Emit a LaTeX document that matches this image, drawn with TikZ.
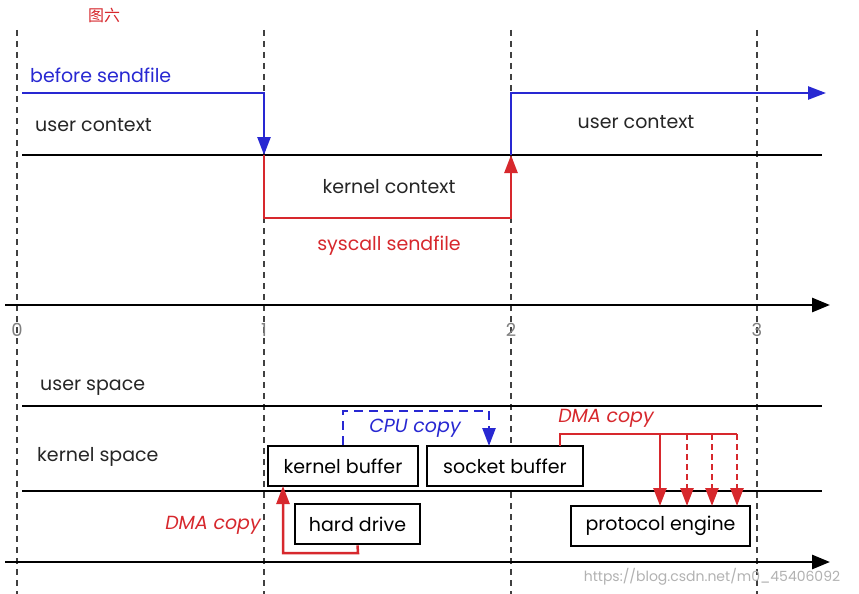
\documentclass[tikz,border=0pt]{standalone}
\usepackage{fontspec}
\setmainfont{Poppins}
\newfontfamily\cjk{Noto Sans CJK SC}
\usetikzlibrary{arrows.meta}
\definecolor{bl}{RGB}{40,40,210}
\definecolor{rd}{RGB}{215,40,45}
\begin{document}
\begin{tikzpicture}[x=1pt,y=-1pt,
 lbl/.style={font=\fontsize{19}{21}\selectfont,text=black!85,inner sep=0},
 it/.style={font=\itshape\fontsize{19}{21}\selectfont},
 box/.style={draw,line width=2.8pt,font=\fontsize{19}{21}\selectfont,minimum height=40pt,inner sep=0},
 vd/.style={black!75,line width=1.5pt,dash pattern=on 6pt off 5pt},
 hl/.style={line width=2.5pt,black},
 ar/.style={-{Triangle[length=18pt,width=13pt]}},
 ax/.style={line width=2.8pt,black,-{Triangle[length=18pt,width=14pt]}},
 tk/.style={font=\fontsize{18}{20}\selectfont,text=black!50,inner sep=0}]
\useasboundingbox[fill=white] (0,0) rectangle (859,594);
\node[text=rd,font=\cjk\fontsize{16}{18}\selectfont] (t) at (104,15) {图六};
\foreach \x/\n in {17/a,264/b,511/c,757/d}{
 \coordinate (\n0) at (\x,30); \coordinate (\n1) at (\x,594);
 \draw[vd] (\n0) -- (\n1);}
% top
\coordinate (p1) at (22,93); \coordinate (p2) at (264,93); \coordinate (p3) at (264,155);
\coordinate (p4) at (264,218); \coordinate (p5) at (511,218); \coordinate (p6) at (511,155);
\coordinate (p7) at (511,93); \coordinate (p8) at (826,93);
\coordinate (l1) at (22,155); \coordinate (l2) at (822,155);
\draw[hl] (l1) -- (l2);
\draw[bl,line width=2.5pt,ar] (p1) -- (p2) -- (p3);
\draw[rd,line width=2.5pt,ar] (p3) -- (p4) -- (p5) -- (p6);
\draw[bl,line width=2.5pt,ar] (p6) -- (p7) -- (p8);
\node[lbl,text=bl,anchor=west] (bs) at (30,75) {before sendfile};
\node[lbl,anchor=west] (uc1) at (35,125) {user context};
\node[lbl] (uc2) at (636,122) {user context};
\node[lbl] (kc) at (389,187) {kernel context};
\node[lbl,text=rd] (ss) at (389,246) {syscall sendfile};
% axis
\coordinate (x0) at (5,305); \coordinate (x1) at (830,305);
\draw[ax] (x0) -- (x1);
\foreach \x/\t in {17/0,264/1,511/2,757/3}{\node[tk] (n\t) at (\x,330) {\t};}
% bottom
\node[lbl,anchor=west] (us) at (40,388) {user space};
\node[lbl,anchor=west] (ks) at (37,457) {kernel space};
\coordinate (m1) at (22,406); \coordinate (m2) at (822,406);
\coordinate (m3) at (22,491); \coordinate (m4) at (822,491);
\draw[hl] (m1) -- (m2); \draw[hl] (m3) -- (m4);
\coordinate (y0) at (5,562); \coordinate (y1) at (830,562);
\draw[ax] (y0) -- (y1);
\node[box,minimum width=150pt,fill=white] (kb) at (343,466) {kernel buffer};
\node[box,minimum width=156pt,fill=white] (sb) at (505,466) {socket buffer};
\node[box,minimum width=125pt,fill=white] (hd) at (357.5,524) {hard drive};
\node[box,minimum width=179pt,fill=white] (pe) at (660.5,526) {protocol engine};
% CPU copy
\coordinate (c1) at (343,411); \coordinate (c2) at (489,411); \coordinate (c3) at (489,446);
\draw[bl,line width=2.5pt,dash pattern=on 9pt off 6pt,ar] (kb.north) -- (c1) -- (c2) -- (c3);
\node[lbl,text=bl,it] (cc) at (415,428) {CPU copy};
% DMA right
\coordinate (d0) at (560,446); \coordinate (d1) at (560,434); \coordinate (d2) at (737,434);
\draw[rd,line width=2.5pt] (d0) -- (d1) -- (d2);
\draw[rd,line width=2.5pt,ar] (660,434) -- (660,506);
\foreach \x in {687,712,737}{\draw[rd,line width=2.5pt,dash pattern=on 6pt off 4pt,ar] (\x,434) -- (\x,506);}
\node[lbl,text=rd,it] (dm1) at (606,418) {DMA copy};
% DMA left
\coordinate (e1) at (358,553); \coordinate (e2) at (283,553); \coordinate (e3) at (283,486);
\draw[rd,line width=2.5pt,ar] (hd.south) -- (e1) -- (e2) -- (e3);
\node[lbl,text=rd,it] (dm2) at (213,525) {DMA copy};
\node[text=black!30,font=\fontsize{14}{16}\selectfont,inner sep=0] (wm) at (712,577) {https://blog.csdn.net/m0\_45406092};
\end{tikzpicture}
\end{document}
